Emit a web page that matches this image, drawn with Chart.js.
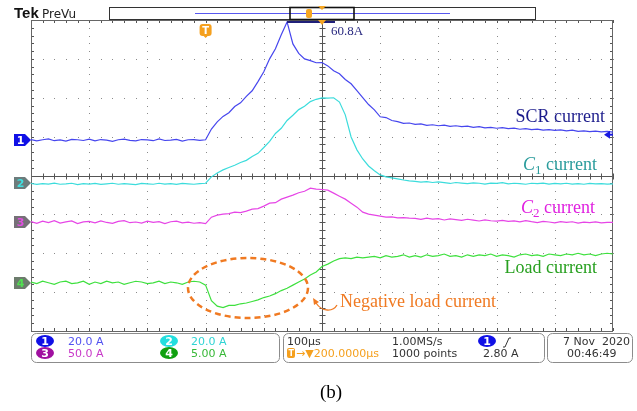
<!DOCTYPE html>
<html>
<head>
<meta charset="utf-8">
<script src="https://cdn.jsdelivr.net/npm/chart.js@4/dist/chart.umd.min.js"></script>
<style>
  body { margin: 0; background: #fff; }
  canvas { display: block; }
</style>
</head>
<body>
<canvas id="scope" width="637" height="411"></canvas>
<script>
// time base: 100 us/div, trigger at 0, record shown from -300 to 700 us
const tStart = -300, tStep = 10
// channel settings (A/div and ground position in divisions)
const chNames = ['SCR current', 'C1 current', 'C2 current', 'Load current']
const chScale = [20, 20, 50, 5]
const chPos = [0.91, -0.19, -1.2, -2.76]
const chColor = ['#4646ee', '#3cdcdc', '#e646e6', '#3ee03e']

// sampled currents in A, every 10 us
const scr = [0.3, -0.4, 0.2, 0.6, -0.3, 0.1, -0.5, 0.4, 0.2, -0.2, 0.5, -0.4, 0.3, 0.0, -0.6, 0.2, 0.5, -0.1, -0.4, 0.3, 0.1, -0.3, 0.6, -0.2, 0.0, 0.4, -0.5, 0.2, 0.3, -0.1,
  0.2,
  5.7, 9.4, 12.2, 14.1, 17.3, 19.2, 22.5, 25.4, 30.1, 35.2, 41.8, 47.0, 54.2, 60.8, 49.5, 44.6, 41.8, 40.9, 39.8, 39.9,
  38.2, 35.7, 34.1, 31.2, 29.0, 25.5, 21.9, 18.3, 15.6, 12.0, 11.6, 10.1, 9.5, 8.6, 8.8,
  8.1, 8.4, 7.6, 7.9, 7.4, 7.7, 7.1, 7.4, 6.9, 7.2, 6.6, 6.9, 6.3, 6.6, 6.1, 6.4, 5.9, 6.2, 5.6, 5.9, 5.4, 5.7, 5.1, 5.4, 5.0, 5.3, 4.8, 5.1, 4.5, 4.8, 4.4, 4.6, 4.2, 4.5, 4.1]
const c1 = [-0.3, -0.8, -0.4, -0.6, -0.1, -0.7, -0.5, -0.2, -0.9, -0.4, -0.6, -0.3, -0.8, -0.5, -0.2, -0.7, -0.4, -0.6, -0.9, -0.3, -0.5, -0.7, -0.2, -0.6, -0.4, -0.8, -0.3, -0.5, -0.7, -0.4,
  -0.2,
  3.1, 5.1, 6.7, 7.9, 9.1, 10.5, 11.6, 13.6, 15.2, 18.2, 21.4, 25.4, 28.1, 32.1, 34.8, 37.7, 39.4, 41.8, 43.0, 43.7,
  43.6, 43.8, 41.6, 35.0, 23.6, 17.0, 12.3, 8.7, 6.2, 4.1, 3.1, 2.6, 2.1, 1.5, 1.0,
  0.8, 0.4, 0.6, 0.2, 0.5, 0.1, -0.3, 0.2, -0.1, -0.4, 0.0, -0.2, -0.6, -0.1, -0.3, 0.1, -0.5, -0.2, -0.4, -0.7, -0.2, -0.4, -0.1, -0.6, -0.3, -0.5, -0.2, -0.6, -0.4, -0.7, -0.3, -0.5, -0.4, -0.6, -0.5]
const c2 = [0.8, -1.5, 1.2, -0.6, 2.0, -1.1, 0.4, 1.6, -1.8, 0.3, 1.0, -0.9, 1.7, -0.4, -1.6, 0.9, 1.9, -0.7, 0.2, -1.3, 1.4, -0.2, 0.7, -1.9, 0.5, 1.3, -1.0, 0.1, -1.4, -0.5,
  -1.8,
  6.4, 9.0, 10.3, 11.0, 12.9, 12.2, 14.1, 16.7, 17.5, 20.6, 24.4, 25.0, 29.6, 32.1, 34.7, 37.8, 39.8, 43.7, 42.4, 42.0,
  41.1, 37.3, 33.4, 29.6, 24.4, 19.3, 12.9, 10.3, 9.0, 7.7, 6.4, 6.8, 5.6, 5.9, 5.1,
  4.8, 3.6, 5.2, 3.9, 4.4, 2.8, 4.1, 3.2, 2.4, 3.7, 2.6, 1.5, 2.9, 1.8, 1.2, 2.3, 0.9, 1.6, 0.4, 1.9, 0.6, -0.5, 1.1, 0.2, -0.8, 0.7, -0.3, 0.5, -1.2, 0.1, -0.6, 0.4, -0.9, -0.2, -0.4]
const load = [0.1, -0.1, 0.2, 0.0, -0.2, 0.1, 0.2, -0.1, 0.0, 0.2, -0.2, 0.1, -0.1, 0.2, 0.0, 0.1, -0.2, 0.0, 0.2, 0.1, -0.1, 0.0, 0.2, -0.1, 0.1, 0.0, -0.2, 0.1, 0.2, 0.1,
  -0.3,
  -2.3, -3.0, -3.2, -2.9, -2.9, -2.7, -2.6, -2.4, -2.2, -1.9, -1.7, -1.4, -1.0, -0.7, -0.3, 0.1, 0.5, 1.0, 1.4, 2.1,
  2.4, 2.8, 3.1, 3.2, 3.1, 3.3, 3.2, 3.3, 3.4, 3.2, 3.5, 3.3, 3.4, 3.6, 3.3,
  3.5, 3.3, 3.6, 3.4, 3.5, 3.7, 3.4, 3.5, 3.3, 3.6, 3.4, 3.6, 3.5, 3.7, 3.4, 3.6, 3.5, 3.3, 3.6, 3.7, 3.5, 3.6, 3.4, 3.7, 3.6, 3.5, 3.7, 3.6, 3.8, 3.6, 3.7, 3.5, 3.7, 3.8, 3.7]

const peakLabel = '60.8A'
const trigLevel = 2.8
const series = [scr, c1, c2, load]

const datasets = series.map((vals, k) => ({
  label: chNames[k],
  data: vals.map((a, i) => ({ x: tStart + i * tStep, y: a / chScale[k] + chPos[k] })),
  borderColor: chColor[k],
  borderWidth: 1.2,
  pointRadius: 0,
  tension: 0
}))

// oscilloscope graticule: dotted divisions, solid centre cross with minor ticks
const graticule = {
  id: 'graticule',
  beforeDatasetsDraw(chart) {
    const c = chart.ctx, a = chart.chartArea
    const xs = chart.scales.x, ys = chart.scales.y
    const px = v => xs.getPixelForValue(v)
    const py = v => ys.getPixelForValue(v)
    c.save()
    c.fillStyle = '#8a8a8a'
    for (let i = 1; i < 10; i++) {
      if (i === 5) continue
      const x = Math.round(px(-300 + i * 100))
      for (let m = 0; m <= 40; m++) c.fillRect(x, Math.round(py(-4 + m * 0.2)), 1, 1)
    }
    for (let j = 1; j < 8; j++) {
      if (j === 4) continue
      const y = Math.round(py(-4 + j))
      for (let m = 0; m <= 50; m++) c.fillRect(Math.round(px(-300 + m * 20)), y, 1, 1)
    }
    c.strokeStyle = '#555'
    c.lineWidth = 1
    const cx = Math.round(px(200)) + 0.5, cy = Math.round(py(0)) + 0.5
    c.beginPath()
    c.moveTo(cx, a.top); c.lineTo(cx, a.bottom)
    c.moveTo(a.left, cy); c.lineTo(a.right, cy)
    for (let m = 0; m <= 50; m++) {
      const x = Math.round(px(-300 + m * 20)) + 0.5
      c.moveTo(x, cy - 3); c.lineTo(x, cy + 3)
      c.moveTo(x, a.top); c.lineTo(x, a.top + 3)
      c.moveTo(x, a.bottom); c.lineTo(x, a.bottom - 3)
    }
    for (let m = 0; m <= 40; m++) {
      const y = Math.round(py(-4 + m * 0.2)) + 0.5
      c.moveTo(cx - 3, y); c.lineTo(cx + 3, y)
      c.moveTo(a.left, y); c.lineTo(a.left + 3, y)
      c.moveTo(a.right, y); c.lineTo(a.right - 3, y)
    }
    c.stroke()
    c.strokeStyle = '#666'
    c.strokeRect(a.left + 0.5, a.top + 0.5, a.right - a.left - 1, a.bottom - a.top)
    c.restore()
  }
}

function badge(c, x, y, fill, txt, txtColor) {
  c.fillStyle = fill
  c.beginPath()
  c.ellipse(x, y, 9, 6, 0, 0, Math.PI * 2)
  c.fill()
  c.fillStyle = txtColor || '#fff'
  c.font = 'bold 11px "DejaVu Sans"'
  c.textAlign = 'center'
  c.fillText(txt, x, y + 4)
  c.textAlign = 'left'
}

function cLabel(c, sub, right, base, color) {
  c.fillStyle = color
  c.font = '18px "Liberation Serif"'
  const rest = ' current'
  const wRest = c.measureText(rest).width
  c.font = '13px "Liberation Serif"'
  const wSub = c.measureText(sub).width
  c.font = 'italic 18px "Liberation Serif"'
  const wC = c.measureText('C').width
  let x = right - wRest - wSub - wC
  c.fillText('C', x, base); x += wC
  c.font = '13px "Liberation Serif"'
  c.fillText(sub, x, base + 4); x += wSub
  c.font = '18px "Liberation Serif"'
  c.fillText(rest, x, base)
}

const overlay = {
  id: 'overlay',
  afterDraw(chart) {
    const c = chart.ctx, a = chart.chartArea
    const xs = chart.scales.x, ys = chart.scales.y
    c.save()
    // header
    c.fillStyle = '#111'
    c.font = 'bold 15px "Liberation Sans"'
    c.fillText('Tek', 14, 18)
    c.font = '12px "DejaVu Sans"'
    c.fillStyle = '#222'
    c.fillText('PreVu', 42, 18)
    // record bar
    c.strokeStyle = '#333'
    c.lineWidth = 1
    c.strokeRect(109.5, 7.5, 426, 12)
    c.strokeStyle = '#5858f0'
    c.beginPath(); c.moveTo(195, 13.5); c.lineTo(450, 13.5); c.stroke()
    c.strokeStyle = '#111'
    c.lineWidth = 1.6
    c.strokeRect(290, 7.5, 64, 12)
    c.fillStyle = '#f5a623'
    c.beginPath(); c.roundRect(306, 9, 6, 9, 2); c.fill()
    c.beginPath(); c.moveTo(318, 6); c.lineTo(326, 6); c.lineTo(322, 10); c.fill()
    // peak cursor
    const xPeak = xs.getPixelForValue(140)
    c.strokeStyle = '#20207a'
    c.lineWidth = 2
    c.beginPath(); c.moveTo(xPeak, 22); c.lineTo(335, 22); c.stroke()
    c.fillStyle = '#f5a623'
    const xc = xs.getPixelForValue(200)
    c.beginPath(); c.moveTo(xc - 4, 20); c.lineTo(xc + 4, 20); c.lineTo(xc, 25); c.fill()
    c.fillStyle = '#2a2a80'
    c.font = '13px "Liberation Serif"'
    c.fillText(peakLabel, 331, 35)
    // trigger marker
    const xt = xs.getPixelForValue(0)
    c.fillStyle = '#f5a01e'
    c.beginPath(); c.roundRect(xt - 6, 24, 12, 12, 3); c.fill()
    c.beginPath(); c.moveTo(xt - 3, 35); c.lineTo(xt + 3, 35); c.lineTo(xt, 38); c.fill()
    c.fillStyle = '#fff'
    c.font = 'bold 10px "DejaVu Sans"'
    c.textAlign = 'center'
    c.fillText('T', xt, 34)
    c.textAlign = 'left'
    // channel ground markers
    const mFill = ['#1010e6', '#6c7c7c', '#767078', '#6c7c6c']
    const mTxt = ['#fff', '#40e0e0', '#e050e0', '#50e050']
    for (let k = 0; k < 4; k++) {
      const y = Math.round(ys.getPixelForValue(chPos[k]))
      c.fillStyle = mFill[k]
      c.beginPath()
      c.moveTo(14, y - 6); c.lineTo(25, y - 6); c.lineTo(31, y); c.lineTo(25, y + 6); c.lineTo(14, y + 6)
      c.closePath(); c.fill()
      c.fillStyle = mTxt[k]
      c.font = 'bold 11px "DejaVu Sans"'
      c.textAlign = 'center'
      c.fillText(String(k + 1), 20.5, y + 4)
      c.textAlign = 'left'
    }
    // trigger level arrow on right edge
    const yl = ys.getPixelForValue(chPos[0] + trigLevel / chScale[0])
    c.fillStyle = '#1a1ae0'
    c.beginPath(); c.moveTo(a.right - 9, yl); c.lineTo(a.right - 3, yl - 4); c.lineTo(a.right - 3, yl + 4); c.fill()
    c.fillRect(a.right - 4, yl - 1, 4, 2)
    // trace labels
    c.font = '18px "Liberation Serif"'
    c.textAlign = 'right'
    c.fillStyle = '#1c1c8c'
    c.fillText('SCR current', 605, 122)
    c.fillStyle = '#28a020'
    c.fillText('Load current', 597, 273)
    c.textAlign = 'left'
    cLabel(c, '1', 597, 170, '#2a9c9c')
    cLabel(c, '2', 595, 213, '#e020e0')
    // negative load current annotation
    c.strokeStyle = '#f07a22'
    c.lineWidth = 2.5
    c.setLineDash([6, 4])
    c.beginPath(); c.ellipse(248, 288, 60, 30, 0, 0, Math.PI * 2); c.stroke()
    c.setLineDash([])
    c.lineWidth = 1.3
    c.beginPath(); c.moveTo(337, 305); c.bezierCurveTo(333, 312, 322, 312, 316, 303); c.stroke()
    c.fillStyle = '#f07a22'
    c.beginPath(); c.moveTo(313, 298); c.lineTo(319, 302); c.lineTo(314, 305); c.fill()
    c.font = '18px "Liberation Serif"'
    c.fillText('Negative load current', 340, 307)
    // info panel
    c.strokeStyle = '#8c8c8c'
    c.lineWidth = 1
    c.beginPath(); c.roundRect(31.5, 333.5, 248, 29, 5); c.stroke()
    c.beginPath(); c.roundRect(283.5, 333.5, 261, 29, 5); c.stroke()
    c.beginPath(); c.roundRect(547.5, 333.5, 85, 29, 5); c.stroke()
    badge(c, 45, 341, '#1010e6', '1')
    badge(c, 169, 341, '#22dede', '2')
    badge(c, 45, 353, '#a010a0', '3')
    badge(c, 169, 353, '#10a010', '4')
    c.font = '11px "DejaVu Sans"'
    c.fillStyle = '#5050f0'; c.fillText(chScale[0].toFixed(1) + ' A', 68, 345)
    c.fillStyle = '#30d4d4'; c.fillText(chScale[1].toFixed(1) + ' A', 191, 345)
    c.fillStyle = '#c838c8'; c.fillText(chScale[2].toFixed(1) + ' A', 68, 357)
    c.fillStyle = '#38b838'; c.fillText(chScale[3].toFixed(2) + ' A', 191, 357)
    c.fillStyle = '#333'
    c.fillText('100µs', 287, 345)
    c.fillText('1.00MS/s', 392, 345)
    c.fillText('1000 points', 392, 357)
    c.fillText('2.80 A', 483, 357)
    c.textAlign = 'right'
    c.fillText('7 Nov  2020', 630, 345)
    c.textAlign = 'left'
    c.fillText('00:46:49', 567, 357)
    c.fillStyle = '#f5a01e'
    c.beginPath(); c.roundRect(287, 348, 8, 10, 2); c.fill()
    c.fillText('→▼200.0000µs', 296, 357)
    c.fillStyle = '#fff'
    c.font = 'bold 8px "DejaVu Sans"'
    c.fillText('T', 288.5, 356)
    badge(c, 487, 341, '#1010e6', '1')
    c.strokeStyle = '#333'
    c.lineWidth = 1
    c.beginPath(); c.moveTo(503, 347); c.lineTo(505, 347); c.lineTo(509, 338); c.lineTo(511, 338); c.stroke()
    // caption
    c.fillStyle = '#000'
    c.font = '19px "Liberation Serif"'
    c.textAlign = 'center'
    c.fillText('(b)', 331, 398)
    c.restore()
  }
}

new Chart(document.getElementById('scope'), {
  type: 'line',
  data: { datasets },
  options: {
    responsive: false,
    animation: false,
    layout: { padding: { left: 31, right: 24, top: 20, bottom: 80 } },
    plugins: { legend: { display: false }, tooltip: { enabled: false } },
    scales: {
      x: { type: 'linear', min: -300, max: 700, display: false },
      y: { min: -4, max: 4, display: false }
    }
  },
  plugins: [graticule, overlay]
})
</script>
</body>
</html>
